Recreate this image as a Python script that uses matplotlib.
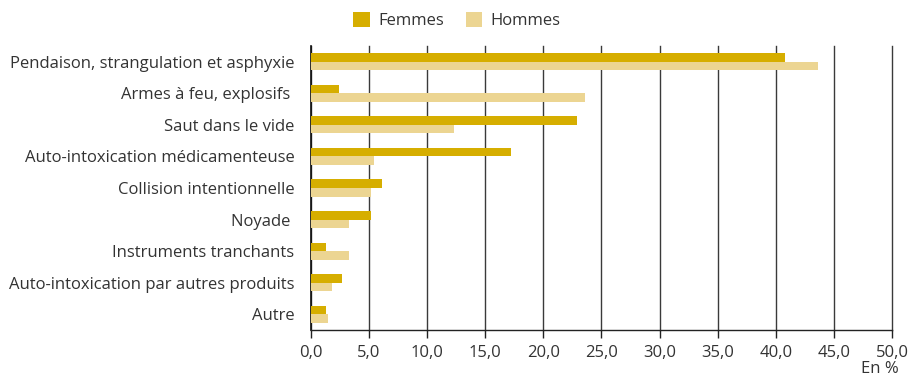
import matplotlib
matplotlib.use("Agg")
import matplotlib.pyplot as plt
from matplotlib.ticker import FuncFormatter, MultipleLocator
from matplotlib.patches import Patch
import numpy as np

categories = [
    "Pendaison, strangulation et asphyxie",
    "Armes à feu, explosifs ",
    "Saut dans le vide",
    "Auto-intoxication médicamenteuse",
    "Collision intentionnelle",
    "Noyade ",
    "Instruments tranchants",
    "Auto-intoxication par autres produits",
    "Autre",
]
femmes = [40.8, 2.4, 22.9, 17.2, 6.1, 5.2, 1.3, 2.7, 1.3]
hommes = [43.6, 23.6, 12.3, 5.4, 5.2, 3.3, 3.3, 1.8, 1.5]
series_names = ["Femmes", "Hommes"]

col_f = "#D6AE00"
col_h = "#ECD592"
txt = "#333333"

plt.rcParams["font.family"] = ["Open Sans", "DejaVu Sans"]

fig = plt.figure(figsize=(9.16, 3.76), dpi=100)
ax = fig.add_axes([0.3395, 0.1223, 0.9738 - 0.3395, 0.8777 - 0.1223])

y = np.arange(len(categories))
h = 0.27
ax.barh(y - h / 2, femmes, height=h, color=col_f, zorder=3)
ax.barh(y + h / 2, hommes, height=h, color=col_h, zorder=3)

ax.set_xlim(0, 50)
ax.set_ylim(len(categories) - 0.5, -0.5)
ax.xaxis.set_major_locator(MultipleLocator(5))
ax.xaxis.set_major_formatter(FuncFormatter(lambda v, p: f"{v:.1f}".replace(".", ",")))
ax.grid(axis="x", color="#3a3a3a", linewidth=1.0, zorder=1)
for gl in ax.get_xgridlines():
    gl.set_clip_on(False)

ax.set_yticks(y)
ax.set_yticklabels(categories, fontsize=12, color=txt)
ax.tick_params(axis="y", length=0, pad=12)
ax.tick_params(axis="x", direction="out", length=6, width=1, color="#222222",
               labelsize=12, labelcolor=txt, pad=5)

for s in ["top", "right"]:
    ax.spines[s].set_visible(False)
ax.spines["left"].set_color("#111111")
ax.spines["left"].set_linewidth(1.2)
ax.spines["bottom"].set_color("#222222")
ax.spines["bottom"].set_linewidth(1.0)

fig.text(0.981, 0.04, "En %", ha="right", va="top", fontsize=12, color=txt)

handles = [Patch(facecolor=col_f, edgecolor="none"), Patch(facecolor=col_h, edgecolor="none")]
fig.legend(handles, series_names, loc="center", bbox_to_anchor=(0.499, 0.946), ncol=2,
           frameon=False, fontsize=12, labelcolor=txt, handlelength=1.0, handleheight=1.0,
           handletextpad=0.5, columnspacing=1.3)

fig.savefig("out.png", dpi=100)
